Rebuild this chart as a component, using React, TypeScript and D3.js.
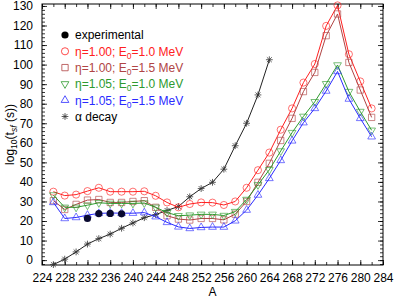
import React, { useRef, useEffect } from 'react';
import * as d3 from 'd3';

// mass numbers used by the model curves
const massNumbers = d3.range(226, 283, 2);

const eta100E10 = [35, 33, 33.5, 35.3, 37, 35, 35, 35, 35.2, 32.9, 29.5, 27, 28.7, 29.5, 29.4, 28.2, 30, 37, 46, 55, 66.7, 77.6, 90.8, 100.3, 119.8, 130.3, 105.3, 91.4, 77.6];
const eta100E15 = [30.4, 25.9, 28.5, 30.7, 31, 29.5, 29.5, 30, 30.4, 27, 22.7, 21, 20.5, 21.3, 21.3, 20.6, 23.5, 30, 39.8, 49.5, 61.2, 72.5, 86.2, 96, 114.8, 125.9, 101.1, 87, 73];
const eta105E10 = [33.3, 27, 27, 28.1, 29.3, 29, 29, 29, 29.2, 27, 24.3, 22.7, 23, 23.4, 23.4, 22.8, 24.8, 31, 38.5, 46.2, 55.8, 65.2, 73.5, 81, 90.2, 99.8, 86.2, 76, 66.4];
const eta105E15 = [29.5, 21.3, 21.8, 23, 23.9, 24.1, 24, 24, 24.3, 22.2, 19.3, 17, 16.2, 16.7, 16.9, 16.9, 20.1, 25.6, 33.3, 41.8, 51, 61, 70.3, 77.6, 86.5, 96.5, 82.4, 72.5, 63.1];

const alphaA = d3.range(226, 265, 2);
const alphaVals = [-2.3, 0.5, 4.2, 8.2, 11, 13.3, 16.3, 19, 21.7, 23.3, 25.4, 27.4, 32.4, 36.6, 39.8, 46.5, 58.5, 70, 84.5, 102.5];

const expA = [232, 234, 236, 238];
const expVals = [21.3, 23.8, 23.9, 23.7];

const W = 395;
const H = 300;
const margin = { left: 42, right: 12, top: 4, bottom: 35 };
const FONT = 'Liberation Sans, Arial, Helvetica, sans-serif';

type Series = { label: string; eta: string; e0: string; vals: number[]; color: string; mark: string };

const series: Series[] = [
  { label: 'a', eta: '1.00', e0: '1.0', vals: eta100E10, color: '#ff2020', mark: 'circle' },
  { label: 'b', eta: '1.00', e0: '1.5', vals: eta100E15, color: '#b04444', mark: 'square' },
  { label: 'c', eta: '1.05', e0: '1.0', vals: eta105E10, color: '#2e9a2e', mark: 'down' },
  { label: 'd', eta: '1.05', e0: '1.5', vals: eta105E15, color: '#2a2aff', mark: 'up' },
];

const markerPath = (mark: string) => {
  if (mark === 'circle') return d3.symbol(d3.symbolCircle, 40)();
  if (mark === 'square') return d3.symbol(d3.symbolSquare, 40)();
  if (mark === 'up' || mark === 'down') return d3.symbol(d3.symbolTriangle, 26)();
  // asterisk, 4 strokes
  const r = 3.4, q = r * 0.72;
  return `M${-r},0L${r},0M0,${-r}L0,${r}M${-q},${-q}L${q},${q}M${-q},${q}L${q},${-q}`;
};

const App = () => {
  const ref = useRef<SVGSVGElement>(null);

  useEffect(() => {
    const svg = d3.select(ref.current);
    svg.selectAll('*').remove();

    const x = d3.scaleLinear().domain([224, 284]).range([margin.left, W - margin.right]);
    const y = d3.scaleLinear().domain([-2.5, 131]).range([H - margin.bottom, margin.top]);

    const x0 = margin.left, x1 = W - margin.right;
    const y0 = H - margin.bottom, y1 = margin.top;

    // axes with inward ticks
    const xMinor = d3.range(224, 285, 2);
    const yMinor = d3.range(-2, 131, 2);

    const drawAxis = (axis: any, tf: string, labels: boolean) => {
      const g = svg.append('g').attr('transform', tf).call(axis);
      g.select('.domain').remove();
      g.selectAll('line').attr('stroke', '#000').attr('stroke-width', 0.8);
      if (!labels) g.selectAll('text').remove();
      else g.selectAll('text').attr('font-family', FONT).attr('font-size', 12).attr('fill', '#000');
      return g;
    };

    // bottom
    drawAxis(d3.axisBottom(x).tickValues(xMinor).tickSize(-3).tickFormat(() => ''), `translate(0,${y0})`, false);
    drawAxis(d3.axisBottom(x).tickValues(d3.range(224, 285, 4)).tickSize(-5).tickPadding(8).tickFormat(d3.format('d')), `translate(0,${y0})`, true);
    // top
    drawAxis(d3.axisTop(x).tickValues(xMinor).tickSize(-3), `translate(0,${y1})`, false);
    drawAxis(d3.axisTop(x).tickValues(d3.range(224, 285, 4)).tickSize(-5), `translate(0,${y1})`, false);
    // left
    drawAxis(d3.axisLeft(y).tickValues(yMinor).tickSize(-3), `translate(${x0},0)`, false);
    drawAxis(d3.axisLeft(y).tickValues(d3.range(0, 131, 10)).tickSize(-5).tickPadding(9).tickFormat(d3.format('d')), `translate(${x0},0)`, true);
    // right
    drawAxis(d3.axisRight(y).tickValues(yMinor).tickSize(-3), `translate(${x1},0)`, false);
    drawAxis(d3.axisRight(y).tickValues(d3.range(0, 131, 10)).tickSize(-5), `translate(${x1},0)`, false);

    svg.append('rect')
      .attr('x', x0).attr('y', y1).attr('width', x1 - x0).attr('height', y0 - y1)
      .attr('fill', 'none').attr('stroke', '#000').attr('stroke-width', 1);

    const plot = svg.append('g');
    const line = d3.line<[number, number]>().x(d => x(d[0])).y(d => y(d[1]));

    // alpha decay
    const alphaPts: [number, number][] = alphaA.map((a, i) => [a, alphaVals[i]]);
    plot.append('path').attr('d', line(alphaPts)).attr('fill', 'none').attr('stroke', '#222').attr('stroke-width', 1);
    plot.selectAll('.alpha').data(alphaPts).join('path')
      .attr('class', 'alpha')
      .attr('d', markerPath('star'))
      .attr('transform', d => `translate(${x(d[0])},${y(d[1])})`)
      .attr('fill', 'none').attr('stroke', '#333').attr('stroke-width', 0.8);

    series.forEach(s => {
      const pts: [number, number][] = massNumbers.map((a, i) => [a, s.vals[i]]);
      plot.append('path').attr('d', line(pts)).attr('fill', 'none').attr('stroke', s.color).attr('stroke-width', 1);
      plot.selectAll(`.m-${s.label}`).data(pts).join('path')
        .attr('class', `m-${s.label}`)
        .attr('d', markerPath(s.mark))
        .attr('transform', d => `translate(${x(d[0])},${y(d[1])})${s.mark === 'down' ? ' rotate(180)' : ''}`)
        .attr('fill', 'none').attr('stroke', s.color).attr('stroke-width', 0.8).attr('stroke-opacity', 0.8);
    });

    // experimental
    plot.selectAll('.exp').data(expA.map((a, i) => [a, expVals[i]])).join('circle')
      .attr('class', 'exp')
      .attr('cx', d => x(d[0])).attr('cy', d => y(d[1])).attr('r', 3.6)
      .attr('fill', '#0a0a30');

    // legend
    const leg = svg.append('g').attr('font-family', FONT).attr('font-size', 12);
    const rows = [
      { text: 'experimental', color: '#000', mark: 'exp' },
      ...series.map(s => ({ text: s.label, color: s.color, mark: s.mark, s })),
      { text: 'α decay', color: '#000', mark: 'star' },
    ];
    rows.forEach((r: any, i) => {
      const ly = 35 + i * 16.3;
      if (r.mark === 'exp') {
        leg.append('circle').attr('cx', 65).attr('cy', ly).attr('r', 3.6).attr('fill', '#000');
      } else {
        leg.append('path').attr('d', markerPath(r.mark))
          .attr('transform', `translate(65,${ly})${r.mark === 'down' ? ' rotate(180)' : ''}`)
          .attr('fill', 'none').attr('stroke', r.mark === 'star' ? '#333' : r.color).attr('stroke-width', 0.8);
      }
      const t = leg.append('text').attr('x', 75).attr('y', ly + 4.3).attr('fill', r.color);
      if (r.s) {
        t.append('tspan').text(`η=${r.s.eta}; E`);
        t.append('tspan').attr('dy', 3).attr('font-size', 8.5).text('0');
        t.append('tspan').attr('dy', -3).text(`=${r.s.e0} MeV`);
      } else {
        t.text(r.text);
      }
    });

    // axis titles
    svg.append('text')
      .attr('x', x(254)).attr('y', 296)
      .attr('text-anchor', 'middle').attr('font-family', FONT).attr('font-size', 12)
      .text('A');

    const yt = svg.append('text')
      .attr('transform', `translate(14,${(y0 + y1) / 2}) rotate(-90)`)
      .attr('text-anchor', 'middle').attr('font-family', FONT).attr('font-size', 12);
    yt.append('tspan').text('log');
    yt.append('tspan').attr('dy', 3).attr('font-size', 8.5).text('10');
    yt.append('tspan').attr('dy', -3).text('(t');
    yt.append('tspan').attr('dy', 3).attr('font-size', 8.5).attr('font-style', 'italic').text('sf');
    yt.append('tspan').attr('dy', -3).text(' (s))');
  }, []);

  return (
    <svg ref={ref} width={W} height={H} style={{ position: 'absolute', left: 0, top: 0, background: '#fff' }} />
  );
};

export default App;
